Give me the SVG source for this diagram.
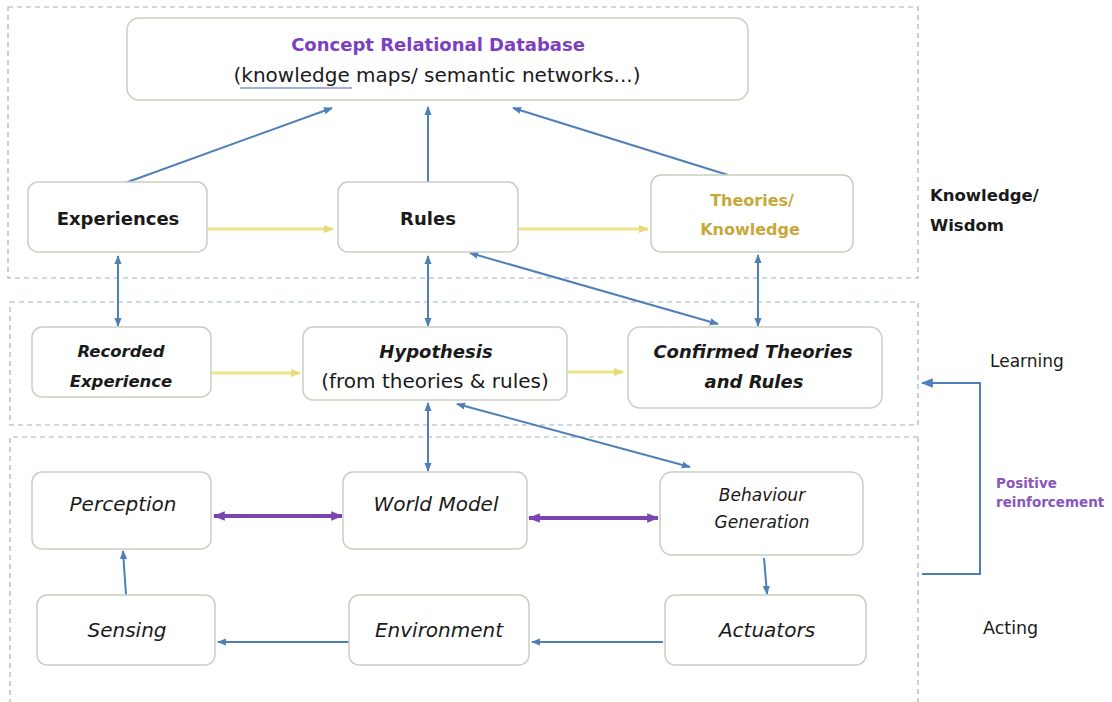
<svg xmlns="http://www.w3.org/2000/svg" width="1112" height="702" viewBox="0 0 1112 702">
<style>
.region{fill:none;stroke:#9fb0c8;stroke-width:1.2;stroke-dasharray:5 4}
.node{fill:#ffffff;stroke:#c9cfbe;stroke-width:1.5}
.t{font-family:"DejaVu Sans","Liberation Sans",sans-serif;fill:#1a1a1a;text-anchor:middle}
.b{font-weight:bold}
.i{font-style:italic}
.blue{stroke:#4f7fb8;stroke-width:2;fill:none}
.yel{stroke:#ede58a;stroke-width:3;fill:none}
.pur{stroke:#7a45b0;stroke-width:4;fill:none}
.side{font-family:"DejaVu Sans","Liberation Sans",sans-serif;fill:#1a1a1a}
</style>
<defs>
<marker id="ab" viewBox="0 0 10 10" refX="9" refY="5" markerWidth="9" markerHeight="9" orient="auto-start-reverse" markerUnits="userSpaceOnUse"><path d="M0,1 L10,5 L0,9 z" fill="#4f7fb8"/></marker>
<marker id="ay" viewBox="0 0 10 10" refX="9" refY="5" markerWidth="10" markerHeight="10" orient="auto-start-reverse" markerUnits="userSpaceOnUse"><path d="M0,1 L10,5 L0,9 z" fill="#e6da7a"/></marker>
<marker id="ap" viewBox="0 0 10 10" refX="9" refY="5" markerWidth="12" markerHeight="12" orient="auto-start-reverse" markerUnits="userSpaceOnUse"><path d="M0,1 L10,5 L0,9 z" fill="#7a45b0"/></marker>
<marker id="af" viewBox="0 0 10 10" refX="9" refY="5" markerWidth="12" markerHeight="12" orient="auto-start-reverse" markerUnits="userSpaceOnUse"><path d="M0,1 L10,5 L0,9 z" fill="#4f7fb8"/></marker>
</defs>
<rect width="1112" height="702" fill="#ffffff"/>
<g id="regions">
<rect class="region" x="8" y="7" width="910" height="271"/>
<rect class="region" x="10" y="302" width="908" height="123"/>
<path class="region" d="M918,437 H10 V702 M918,437 V702"/>
</g>
<g id="connectors">
<line class="blue" x1="125" y1="183" x2="332" y2="108" marker-end="url(#ab)"/>
<line class="blue" x1="428" y1="182" x2="428" y2="107" marker-end="url(#ab)"/>
<line class="blue" x1="728" y1="175" x2="513" y2="108" marker-end="url(#ab)"/>
<line class="yel" x1="208" y1="229" x2="333" y2="229" marker-end="url(#ay)"/>
<line class="yel" x1="519" y1="229" x2="648" y2="229" marker-end="url(#ay)"/>
<line class="blue" x1="118" y1="256" x2="118" y2="326" marker-start="url(#ab)" marker-end="url(#ab)"/>
<line class="blue" x1="428" y1="256" x2="428" y2="326" marker-start="url(#ab)" marker-end="url(#ab)"/>
<line class="blue" x1="758" y1="255" x2="758" y2="326" marker-start="url(#ab)" marker-end="url(#ab)"/>
<line class="blue" x1="470" y1="253" x2="718" y2="324" marker-start="url(#ab)" marker-end="url(#ab)"/>
<line class="yel" x1="212" y1="373" x2="300" y2="373" marker-end="url(#ay)"/>
<line class="yel" x1="568" y1="372" x2="623" y2="372" marker-end="url(#ay)"/>
<line class="blue" x1="428" y1="403" x2="428" y2="471" marker-start="url(#ab)" marker-end="url(#ab)"/>
<line class="blue" x1="457" y1="404" x2="690" y2="467" marker-start="url(#ab)" marker-end="url(#ab)"/>
<line class="pur" x1="214" y1="516" x2="342" y2="516" marker-start="url(#ap)" marker-end="url(#ap)"/>
<line class="pur" x1="529" y1="518" x2="658" y2="518" marker-start="url(#ap)" marker-end="url(#ap)"/>
<line class="blue" stroke-width="2.5" x1="764" y1="558" x2="767" y2="594" marker-end="url(#ab)"/>
<line class="blue" stroke-width="2.5" x1="663" y1="642" x2="532" y2="642" marker-end="url(#ab)"/>
<line class="blue" stroke-width="2.5" x1="349" y1="642" x2="218" y2="642" marker-end="url(#ab)"/>
<line class="blue" stroke-width="2.5" x1="126" y1="595" x2="123" y2="551" marker-end="url(#ab)"/>
<path class="blue" stroke-width="3" d="M922,574 H980 V383 H922" marker-end="url(#af)"/>
</g>
<g id="crd">
<rect class="node" x="127" y="18" width="621" height="82" rx="12"/>
<text class="t b" x="438" y="51" font-size="18" style="fill:#7b3fc0">Concept Relational Database</text>
<text class="t" x="437" y="82" font-size="20">(knowledge maps/ semantic networks...)</text>
<line x1="240" y1="88" x2="352" y2="88" stroke="#4060a8" stroke-width="1.2"/>
</g>
<g id="experiences">
<rect class="node" x="28" y="182" width="179" height="70" rx="10"/>
<text class="t b" x="118" y="225" font-size="18">Experiences</text>
</g>
<g id="rules">
<rect class="node" x="338" y="182" width="180" height="70" rx="10"/>
<text class="t b" x="428" y="225" font-size="18">Rules</text>
</g>
<g id="theories">
<rect class="node" x="651" y="175" width="202" height="77" rx="10"/>
<text class="t b" x="752" y="206" font-size="16" style="fill:#c8a83a">Theories/</text>
<text class="t b" x="750" y="235" font-size="16" style="fill:#c8a83a">Knowledge</text>
</g>
<g id="recorded">
<rect class="node" x="32" y="327" width="179" height="70" rx="10"/>
<text class="t b i" x="121" y="357" font-size="16.5">Recorded</text>
<text class="t b i" x="121" y="387" font-size="16.5">Experience</text>
</g>
<g id="hypothesis">
<rect class="node" x="303" y="327" width="264" height="73" rx="10"/>
<text class="t b i" x="436" y="358" font-size="18">Hypothesis</text>
<text class="t" x="435" y="388" font-size="20">(from theories &amp; rules)</text>
</g>
<g id="confirmed">
<rect class="node" x="628" y="327" width="254" height="81" rx="12"/>
<text class="t b i" x="753" y="358" font-size="18">Confirmed Theories</text>
<text class="t b i" x="754" y="388" font-size="18">and Rules</text>
</g>
<g id="perception">
<rect class="node" x="32" y="472" width="179" height="77" rx="10"/>
<text class="t i" x="123" y="511" font-size="20">Perception</text>
</g>
<g id="worldmodel">
<rect class="node" x="343" y="472" width="184" height="77" rx="10"/>
<text class="t i" x="436" y="511" font-size="20">World Model</text>
</g>
<g id="behaviour">
<rect class="node" x="660" y="472" width="203" height="83" rx="12"/>
<text class="t i" x="762" y="501" font-size="17">Behaviour</text>
<text class="t i" x="762" y="528" font-size="17">Generation</text>
</g>
<g id="sensing">
<rect class="node" x="37" y="595" width="178" height="70" rx="10"/>
<text class="t i" x="127" y="637" font-size="20">Sensing</text>
</g>
<g id="environment">
<rect class="node" x="349" y="595" width="180" height="70" rx="10"/>
<text class="t i" x="439" y="637" font-size="20">Environment</text>
</g>
<g id="actuators">
<rect class="node" x="665" y="595" width="201" height="70" rx="10"/>
<text class="t i" x="767" y="637" font-size="20">Actuators</text>
</g>
<g id="labels">
<text class="side" x="930" y="201" font-weight="bold" font-size="16.5">Knowledge/</text>
<text class="side" x="930" y="231" font-weight="bold" font-size="16.5">Wisdom</text>
<text class="side" x="990" y="367" font-size="17">Learning</text>
<text class="side" x="996" y="488" font-weight="bold" style="fill:#8a55c0;font-size:13.5px">Positive</text>
<text class="side" x="996" y="507" font-weight="bold" style="fill:#8a55c0;font-size:13.5px">reinforcement</text>
<text class="side" x="983" y="634" font-size="17.5">Acting</text>
</g>
</svg>
